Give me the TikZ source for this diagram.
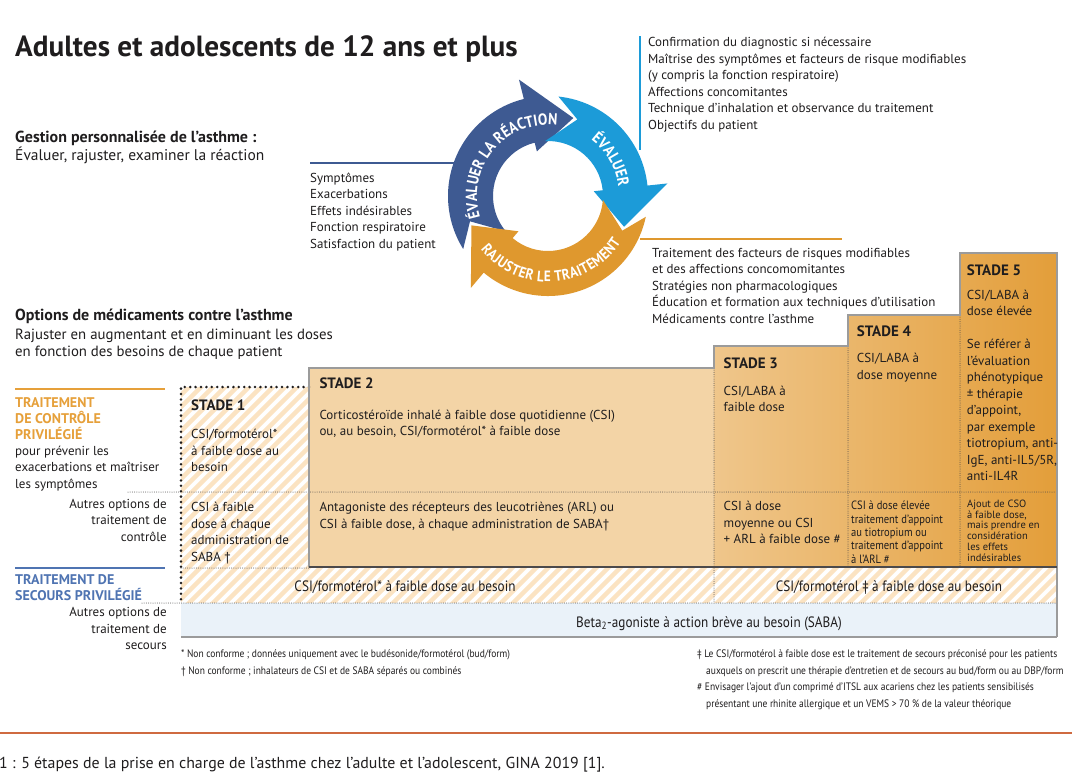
\documentclass[tikz,border=0pt]{standalone}
\usepackage{fontspec}
\setmainfont{PT Sans}
\newfontfamily\condensed{PT Sans}[FakeStretch=0.88]
\usetikzlibrary{decorations.text}
\definecolor{Ink}{HTML}{1F1D1E}
\definecolor{NavyArc}{HTML}{3E5A92}
\definecolor{SkyArc}{HTML}{1C9BD8}
\definecolor{OrangeArc}{HTML}{DF982E}
\definecolor{CtrlOrange}{HTML}{E6A03A}
\definecolor{RelBlue}{HTML}{4F74B2}
\definecolor{Frame}{HTML}{9B9B9B}
\definecolor{StepLight}{HTML}{F3D4A6}
\definecolor{StepMid}{HTML}{EFC68B}
\definecolor{StepDark}{HTML}{E39E3A}
\definecolor{Stripe}{HTML}{FBE3C2}
\definecolor{SabaBlue}{HTML}{EAF2F9}
\definecolor{Rule}{HTML}{CF6A40}

\begin{document}
\begin{tikzpicture}[x=1pt,y=-1pt,
    txt/.style={inner sep=0pt,anchor=north west,align=left,text=Ink,font=\fontsize{13}{16.5}\selectfont},
    txtr/.style={txt,anchor=north east,align=right},
    oneline/.style={inner sep=0pt,anchor=base west,text=Ink,font=\fontsize{14.8}{17}\selectfont},
    boldline/.style={oneline,font=\bfseries\fontsize{16}{18}\selectfont},
    stadelbl/.style={inner sep=0pt,anchor=base west,text=Ink,font=\bfseries\fontsize{15}{18}\selectfont},
    rowtxt/.style={inner sep=0pt,anchor=base,text=Ink,font=\condensed\fontsize{15}{17}\selectfont},
    small/.style={txt,font=\condensed\fontsize{12}{13.3}\selectfont},
    mini/.style={txt,font=\fontsize{10.5}{10.9}\selectfont},
    fnote/.style={txt,font=\condensed\fontsize{10.8}{16.6}\selectfont},
    arcword/.style={decorate,decoration={text along path,text align=center,text color=white,
        text={|\condensed\bfseries\fontsize{16}{16}\selectfont|#1}}},
    arcspaced/.style={decorate,decoration={text along path,text align=center,text color=white,
        text={|\condensed\bfseries\fontsize{15}{15}\selectfont\kern0.5pt|#1}}},
    dots/.style={Ink!80,line width=1pt,dash pattern=on 0pt off 2.2pt,line cap=round},
    bigdots/.style={Ink,line width=2.8pt,dash pattern=on 0pt off 5.4pt,line cap=round}]

  \fill[white] (0,0) rectangle (1072,772);
  \useasboundingbox (0,0) rectangle (1072,772);

  % titles
  \node[oneline,font=\bfseries\fontsize{29.2}{32}\selectfont] (title) at (15,56.7) {Adultes et adolescents de 12 ans et plus};
  \node[boldline] (gestion) at (15,142.7) {Gestion personnalisée de l’asthme :};
  \node[oneline,font=\fontsize{15.5}{17}\selectfont] (evaluer) at (15,160) {Évaluer, rajuster, examiner la réaction};
  \node[boldline] (options) at (15,320) {Options de médicaments contre l’asthme};
  \node[oneline] (rajuster) at (15,339.3) {Rajuster en augmentant et en diminuant les doses};
  \node[oneline] (besoins) at (15,356) {en fonction des besoins de chaque patient};

  % cycle
  \begin{scope}[shift={(548,196)}]
    \fill[NavyArc] (212:100pt) arc[start angle=212,end angle=104,radius=100pt] -- (104:120pt) -- (72:82pt)
      -- (104:46pt) -- (104:55pt) arc[start angle=104,end angle=220,radius=55pt] -- (198:82pt) -- cycle;
    \fill[SkyArc] (84:100pt) arc[start angle=84,end angle=6,radius=100pt] -- (6:120pt) -- (-22:82pt)
      -- (6:46pt) -- (6:55pt) arc[start angle=6,end angle=93,radius=55pt] -- (69:82pt) -- cycle;
    \fill[OrangeArc] (-12:100pt) arc[start angle=-12,end angle=-130,radius=100pt] -- (-130:120pt) -- (-159:82pt)
      -- (-130:46pt) -- (-130:55pt) arc[start angle=-130,end angle=-4,radius=55pt] -- (-25:82pt) -- cycle;
    \path[arcword={ÉVALUER LA RÉACTION}] (210:71pt) arc[start angle=210,end angle=70,radius=71pt];
    \path[arcword={ÉVALUER}] (64:71pt) arc[start angle=64,end angle=-4,radius=71pt];
    \path[arcspaced={RAJUSTER LE TRAITEMENT}] (200:86pt) arc[start angle=200,end angle=346,radius=86pt];
  \end{scope}

  \coordinate (navyA) at (310,163);
  \coordinate (navyB) at (455,163);
  \coordinate (skyA) at (640,36);
  \coordinate (skyB) at (640,150);
  \coordinate (orA) at (640,239);
  \coordinate (orB) at (842,239);
  \draw[NavyArc,line width=2pt] (navyA) -- (navyB);
  \draw[SkyArc,line width=2.5pt] (skyA) -- (skyB);
  \draw[OrangeArc,line width=2pt] (orA) -- (orB);

  \node[txt] (evalinfo) at (648,37) {Confirmation du diagnostic si nécessaire\\Maîtrise des symptômes et facteurs de risque modifiables\\(y compris la fonction respiratoire)\\Affections concomitantes\\Technique d’inhalation et observance du traitement\\Objectifs du patient};
  \node[txt] (reponse) at (310,172.3) {Symptômes\\Exacerbations\\Effets indésirables\\Fonction respiratoire\\Satisfaction du patient};
  \node[txt] (ajust) at (652,247.6) {Traitement des facteurs de risques modifiables\\et des affections concomomitantes\\Stratégies non pharmacologiques\\Éducation et formation aux techniques d’utilisation\\Médicaments contre l’asthme};

  % stripes
  \begin{scope}
    \clip (181,387) rectangle (309,603) (309,568) rectangle (1057,603);
    \foreach \s in {-60,-48,...,1060} \draw[Stripe,line width=4.5pt] (\s,612) -- ++(250,-250);
  \end{scope}

  % steps
  \fill[StepLight] (309,368) rectangle (714,567);
  \shade[left color=StepMid,right color=StepDark] (714,346) -- (848,346) -- (848,315) -- (960,315) -- (960,253)
    -- (1057,253) -- (1057,567) -- (714,567) -- cycle;
  \fill[SabaBlue] (181,603) rectangle (1057,636);

  \draw[dots] (128,492) -- (1057,492);
  \draw[dots] (181,568) -- (309,568);
  \draw[dots] (142,603) -- (1057,603);
  \draw[dots] (714,368) -- (714,603);
  \draw[dots] (848,346) -- (848,567);
  \draw[dots] (960,315) -- (960,567);
  \draw[bigdots] (309,387) -- (181,387) -- (181,603);

  \draw[Frame,line width=2.5pt] (309,567) -- (309,368) -- (714,368) -- (714,346) -- (848,346) -- (848,315)
    -- (960,315) -- (960,253) -- (1057,253) -- (1057,637);
  \draw[Ink!80,line width=1.5pt] (309,567) -- (1057,567);
  \draw[Frame,line width=2.5pt] (181,637) -- (1057,637);

  \draw[CtrlOrange,line width=2.5pt] (15,389) -- (165,389);
  \draw[RelBlue,line width=2.5pt] (15,568) -- (165,568);
  \draw[Rule,line width=2.5pt] (0,733) -- (1072,733);

  % left labels
  \node[txt,font=\bfseries\fontsize{14}{16}\selectfont,text=CtrlOrange] (ctrlhead) at (15,397) {TRAITEMENT\\DE CONTRÔLE\\PRIVILÉGIÉ};
  \node[txt] (ctrlsub) at (15,445.6) {pour prévenir les\\exacerbations et maîtriser\\les symptômes};
  \node[txtr] (ctrlalt) at (167,499) {Autres options de\\traitement de\\contrôle};
  \node[txt,font=\bfseries\fontsize{14}{16}\selectfont,text=RelBlue] (relhead) at (15,574.2) {TRAITEMENT DE\\SECOURS PRIVILÉGIÉ};
  \node[txtr] (relalt) at (167,607.3) {Autres options de\\traitement de\\secours};

  % stades
  \node[stadelbl] (s1) at (191,410.7) {STADE 1};
  \node[stadelbl] (s2) at (319.3,388.3) {STADE 2};
  \node[stadelbl] (s3) at (723.5,368.3) {STADE 3};
  \node[stadelbl] (s4) at (856.7,336.7) {STADE 4};
  \node[stadelbl] (s5) at (966.7,275) {STADE 5};

  \node[txt] (s1a) at (191,429) {CSI/formotérol*\\à faible dose au\\besoin};
  \node[txt] (s1b) at (191,502.3) {CSI à faible\\dose à chaque\\administration de\\SABA †};
  \node[txt] (s2a) at (319.3,409.5) {Corticostéroïde inhalé à faible dose quotidienne (CSI)\\ou, au besoin, CSI/formotérol* à faible dose};
  \node[txt] (s2b) at (319.3,502.3) {Antagoniste des récepteurs des leucotriènes (ARL) ou\\CSI à faible dose, à chaque administration de SABA†};
  \node[txt] (s3a) at (723.5,385.6) {CSI/LABA à\\faible dose};
  \node[txt] (s3b) at (723.5,501.3) {CSI à dose\\moyenne ou CSI\\+ ARL à faible dose \#};
  \node[txt] (s4a) at (856.7,353.3) {CSI/LABA à\\dose moyenne};
  \node[small] (s4b) at (851,501) {CSI à dose élevée\\traitement d’appoint\\au tiotropium ou\\traitement d’appoint\\à l’ARL \#};
  \node[txt] (s5a) at (966.7,289.5) {CSI/LABA à\\dose élevée\\[16.5pt]Se référer à\\l’évaluation\\phénotypique\\± thérapie\\d’appoint,\\par exemple\\tiotropium, anti-\\IgE, anti-IL5/5R,\\anti-IL4R};
  \node[mini] (s5b) at (967,499.5) {Ajout de CSO\\à faible dose,\\mais prendre en\\considération\\les effets\\indésirables};

  \node[rowtxt] (relpref1) at (405,591) {CSI/formotérol* à faible dose au besoin};
  \node[rowtxt] (relpref2) at (889,591) {CSI/formotérol ‡ à faible dose au besoin};
  \node[rowtxt] (saba) at (709,627) {Beta\textsubscript{2}-agoniste à action brève au besoin (SABA)};

  % notes
  \node[fnote] (fnleft) at (181,649.5) {* Non conforme ; données uniquement avec le budésonide/formotérol (bud/form)\\† Non conforme ; inhalateurs de CSI et de SABA séparés ou combinés};
  \node[fnote] (fnright) at (697,649.5) {‡ Le CSI/formotérol à faible dose est le traitement de secours préconisé pour les patients\\\hspace*{9pt}auxquels on prescrit une thérapie d’entretien et de secours au bud/form ou au DBP/form\\\# Envisager l’ajout d’un comprimé d’ITSL aux acariens chez les patients sensibilisés\\\hspace*{9pt}présentant une rhinite allergique et un VEMS > 70 \% de la valeur théorique};

  \node[oneline,font=\fontsize{15.9}{18}\selectfont] (caption) at (-1,768) {1 : 5 étapes de la prise en charge de l’asthme chez l’adulte et l’adolescent, GINA 2019 [1].};
\end{tikzpicture}
\end{document}
